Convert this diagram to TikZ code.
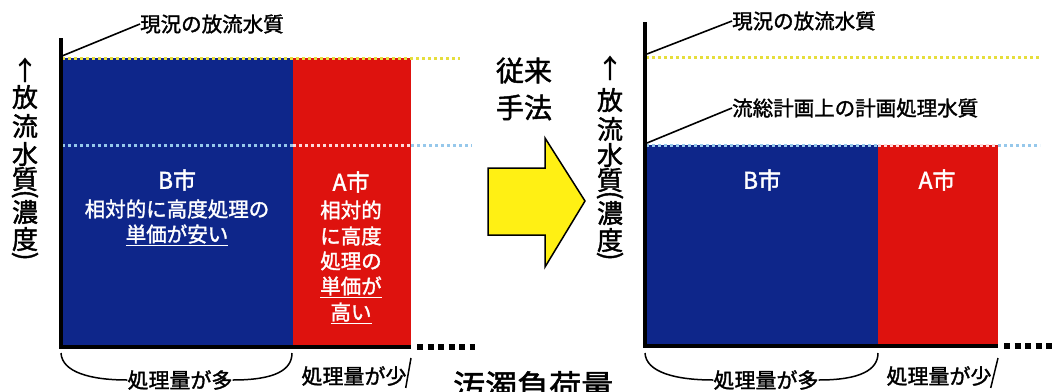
\documentclass[tikz,border=0pt]{standalone}
\usepackage{graphicx}
\usepackage{fontspec}
\setmainfont{Noto Sans CJK JP}[FakeBold=1.6]
\definecolor{barblue}{RGB}{14,38,138}
\definecolor{barred}{RGB}{222,18,14}
\definecolor{dotyellow}{RGB}{230,222,60}
\definecolor{dotblue}{RGB}{150,200,235}
\definecolor{arrowyellow}{RGB}{255,240,20}
\tikzset{
  axisline/.style={line width=4pt,black},
  leader/.style={line width=1.6pt,black},
  lbl/.style={inner sep=0pt,font=\fontsize{20.5}{22}\selectfont},
  vlbl/.style={inner sep=0pt,font=\fontsize{26}{27}\selectfont},
  intext/.style={inner sep=0pt,text=white,font=\fontsize{20.5}{22}\selectfont},
  citytext/.style={inner sep=0pt,text=white,font=\fontsize{23}{24}\selectfont},
  qtext/.style={inner sep=0pt,font=\fontsize{21}{22}\selectfont},
  brace/.style={line width=1.5pt,black},
  ydots/.style={dotyellow,line width=3pt,dash pattern=on 3pt off 3pt},
  bdots/.style={dotblue,line width=3pt,dash pattern=on 3pt off 3pt},
  kdots/.style={black,line width=6pt,dash pattern=on 6pt off 4.5pt},
}
\newcommand{\ul}[1]{\underline{#1}}
\newcommand{\vparen}[1]{\rotatebox[origin=c]{-90}{#1}}
\begin{document}
\begin{tikzpicture}[x=1pt,y=-1pt]
\useasboundingbox[fill=white] (0,0) rectangle (1054,391);

% ================= LEFT PANEL =================
\fill[barblue] (61,58) rectangle (293,346);
\fill[barred] (293,58) rectangle (411,346);
\draw[ydots] (62,58) -- (460,58);
\draw[bdots] (62,145) -- (293,145);
\draw[bdots,color=white!85!red] (293,145) -- (411,145);
\draw[bdots] (411,145) -- (472,145);
\coordinate (LaxTop) at (61,38);
\coordinate (LaxBot) at (61,347);
\coordinate (LaxEnd) at (411,347);
\draw[axisline] (LaxTop) -- (LaxBot) -- (LaxEnd);
\coordinate (LdotS) at (417,347);
\coordinate (LdotE) at (475,347);
\draw[kdots] (LdotS) -- (LdotE);

\node[lbl,anchor=west] (Lcur) at (140,24) {現況の放流水質};
\coordinate (LcurP) at (62,56);
\draw[leader] (LcurP) -- (Lcur.west);

\foreach \c/\yy [count=\i] in {↑/70,放/97,流/126,水/154,質/179,濃/212,度/239}
  \node[vlbl] (Lv\i) at (25,\yy) {\c};
\node[vlbl] (LvP1) at (25,196) {\vparen{(}};
\node[vlbl] (LvP2) at (25,258) {\vparen{)}};

\node[citytext] (LB) at (177,180) {B市};
\node[intext] (LB1) at (177,209) {相対的に高度処理の};
\node[intext] (LB2) at (177,235) {\ul{単価が安い}};
\node[citytext] (LA) at (351,182) {A市};
\node[intext] (LA1) at (351,210) {相対的};
\node[intext] (LA2) at (351,236) {に高度};
\node[intext] (LA3) at (351,261) {処理の};
\node[intext] (LA4) at (351,287) {\ul{単価が}};
\node[intext] (LA5) at (351,313) {\ul{高い}};

\node[qtext] (Lq1) at (180,380) {処理量が多};
\node[qtext] (Lq2) at (354,376) {処理量が少};
\coordinate (Lb1) at (61,353);
\coordinate (Lb2) at (292,353);
\coordinate (Lb3) at (411,358);
\draw[brace] (Lb1) .. controls (62,372) and (90,380) .. (Lq1.west);
\draw[brace] (Lq1.east) .. controls (275,380) and (292,370) .. (Lb2);
\draw[brace] ([xshift=-1pt,yshift=-2pt]Lq2.south east) -- (Lb3);

% ================= ARROW =================
\node[inner sep=0pt,align=center,font=\fontsize{28}{37}\selectfont] (Lbl) at (524,89) {従来\\手法};
\draw[line width=1.5pt,fill=arrowyellow,line join=miter]
  (488,168) -- (545,168) -- (545,138) -- (585,201) -- (545,267) -- (545,235) -- (488,235) -- cycle;
\node[inner sep=0pt,anchor=north west,font=\fontsize{32}{34}\selectfont] (Ltot) at (453,371) {汚濁負荷量};

% ================= RIGHT PANEL =================
\fill[barblue] (645,145) rectangle (878,345);
\fill[barred] (878,145) rectangle (998,345);
\draw[ydots] (646,57) -- (1040,57);
\draw[bdots] (646,145) -- (878,145);
\draw[bdots,color=white!85!red] (878,145) -- (998,145);
\draw[bdots] (998,145) -- (1040,145);
\coordinate (RaxTop) at (645,22);
\coordinate (RaxBot) at (645,346);
\coordinate (RaxEnd) at (998,346);
\draw[axisline] (RaxTop) -- (RaxBot) -- (RaxEnd);
\coordinate (RdotS) at (1004,346);
\coordinate (RdotE) at (1054,346);
\draw[kdots] (RdotS) -- (RdotE);

\node[lbl,anchor=west] (Rcur) at (732,21) {現況の放流水質};
\coordinate (RcurP) at (647,54);
\draw[leader] (RcurP) -- (Rcur.west);
\node[lbl,anchor=west] (Rplan) at (732,108) {流総計画上の計画処理水質};
\coordinate (RplanP) at (647,143);
\draw[leader] (RplanP) -- (Rplan.west);

\foreach \c/\yy [count=\i] in {↑/68,放/100,流/129,水/155,質/180,濃/213,度/240}
  \node[vlbl] (Rv\i) at (610,\yy) {\c};
\node[vlbl] (RvP1) at (610,197) {\vparen{(}};
\node[vlbl] (RvP2) at (610,258) {\vparen{)}};

\node[citytext] (RB) at (762,180) {B市};
\node[citytext] (RA) at (937,180) {A市};

\node[qtext] (Rq1) at (766,380) {処理量が多};
\node[qtext] (Rq2) at (939,376) {処理量が少};
\coordinate (Rb1) at (645,353);
\coordinate (Rb2) at (878,353);
\coordinate (Rb3) at (998,358);
\draw[brace] (Rb1) .. controls (646,372) and (675,380) .. (Rq1.west);
\draw[brace] (Rq1.east) .. controls (860,380) and (878,370) .. (Rb2);
\draw[brace] ([xshift=-1pt,yshift=-2pt]Rq2.south east) -- (Rb3);
\end{tikzpicture}
\end{document}
